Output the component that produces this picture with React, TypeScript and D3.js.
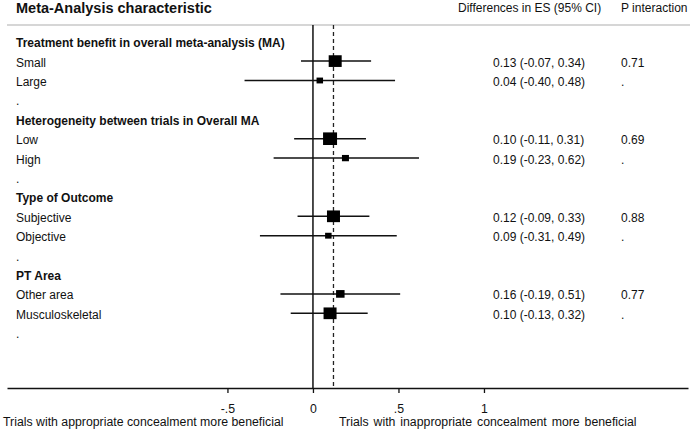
import React from "react";
import * as d3 from "d3";

const rowLabels = [
  "Treatment benefit in overall meta-analysis (MA)", "Small", "Large", ".",
  "Heterogeneity between trials in Overall MA", "Low", "High", ".",
  "Type of Outcome", "Subjective", "Objective", ".",
  "PT Area", "Other area", "Musculoskeletal", ".",
];
const headingRows = [0, 4, 8, 12];
const estRows = [1, 2, 5, 6, 9, 10, 13, 14];
const estimates = [0.13, 0.04, 0.10, 0.19, 0.12, 0.09, 0.16, 0.10];
const lower = [-0.07, -0.40, -0.11, -0.23, -0.09, -0.31, -0.19, -0.13];
const upper = [0.34, 0.48, 0.31, 0.62, 0.33, 0.49, 0.51, 0.32];
const weights = [13, 6.5, 14, 7, 13, 6.5, 8.5, 13];
const ciText = [
  "0.13 (-0.07, 0.34)", "0.04 (-0.40, 0.48)", "0.10 (-0.11, 0.31)", "0.19 (-0.23, 0.62)",
  "0.12 (-0.09, 0.33)", "0.09 (-0.31, 0.49)", "0.16 (-0.19, 0.51)", "0.10 (-0.13, 0.32)",
];
const pText = ["0.71", ".", "0.69", ".", "0.88", ".", "0.77", "."];
const overall = 0.12;
const tickValues = [-0.5, 0, 0.5, 1];
const tickLabels = ["-.5", "0", ".5", "1"];

const FONT = "'Liberation Sans', Arial, sans-serif";

export default function App() {
  const W = 690, H = 430;
  const x = d3.scaleLinear().domain([-1.789, 2.193]).range([7, 688]);
  const y = d3.scaleLinear().domain([0, 1]).range([41.7, 61.1]);
  const axisY = 388;
  const topY = 25;
  const axisRef = React.useRef<SVGGElement>(null);

  React.useEffect(() => {
    if (!axisRef.current) return;
    const g = d3.select(axisRef.current);
    g.selectAll("*").remove();
    const ax = d3
      .axisBottom(x)
      .tickValues(tickValues)
      .tickFormat((d, i) => tickLabels[i])
      .tickSize(5)
      .tickSizeOuter(0);
    g.call(ax as any);
    g.select(".domain").attr("stroke", "#111").attr("stroke-width", 1.6);
    g.selectAll(".tick line").attr("stroke", "#111").attr("stroke-width", 1.3);
    g.selectAll(".tick text")
      .attr("font-family", FONT)
      .attr("font-size", 12.3)
      .attr("fill", "#111")
      .attr("y", 16);
  }, []);

  return (
    <svg width={W} height={H} style={{ position: "absolute", left: 0, top: 0, background: "#fff" }} fontFamily={FONT}>
      <rect width={W} height={H} fill="#fff" />
      <text x={16} y={8} dominantBaseline="central" fontSize={14.5} fontWeight="bold" fill="#111">
        Meta-Analysis characteristic
      </text>
      <text x={458} y={8} dominantBaseline="central" fontSize={12} fill="#111">
        Differences in ES (95% CI)
      </text>
      <text x={621} y={8} dominantBaseline="central" fontSize={12} fill="#111">
        P interaction
      </text>
      <line x1={7} x2={690} y1={topY} y2={topY} stroke="#c8c8c8" strokeWidth={1.5} />

      {rowLabels.map((lab, i) => (
        <text
          key={"l" + i}
          x={16}
          y={y(i) + 1.5}
          dominantBaseline="central"
          fontSize={12}
          fontWeight={headingRows.includes(i) ? "bold" : "normal"}
          fill="#111"
        >
          {lab}
        </text>
      ))}

      <line x1={x(0)} x2={x(0)} y1={topY} y2={axisY} stroke="#111" strokeWidth={1.5} />
      <line
        x1={x(overall)}
        x2={x(overall)}
        y1={topY}
        y2={axisY}
        stroke="#222"
        strokeWidth={1.3}
        strokeDasharray="4,3"
      />

      {estRows.map((r, i) => {
        const cy = y(r);
        const s = weights[i];
        return (
          <g key={"e" + i}>
            <line x1={x(lower[i])} x2={x(upper[i])} y1={cy} y2={cy} stroke="#111" strokeWidth={1.5} />
            <rect x={x(estimates[i]) - s / 2} y={cy - (s * 0.9) / 2} width={s} height={s * 0.9} fill="#000" />
            <text x={493} y={cy + 1.5} dominantBaseline="central" fontSize={12} fill="#111">
              {ciText[i]}
            </text>
            <text x={621} y={cy + 1.5} dominantBaseline="central" fontSize={12} fill="#111">
              {pText[i]}
            </text>
          </g>
        );
      })}

      <g ref={axisRef} transform={`translate(0,${axisY})`} />

      <text x={3} y={422} dominantBaseline="central" fontSize={12.3} fill="#111">
        Trials with appropriate concealment more beneficial
      </text>
      <text x={339} y={422} dominantBaseline="central" fontSize={12.3} wordSpacing={1.5} fill="#111">
        Trials with inappropriate concealment more beneficial
      </text>
    </svg>
  );
}
